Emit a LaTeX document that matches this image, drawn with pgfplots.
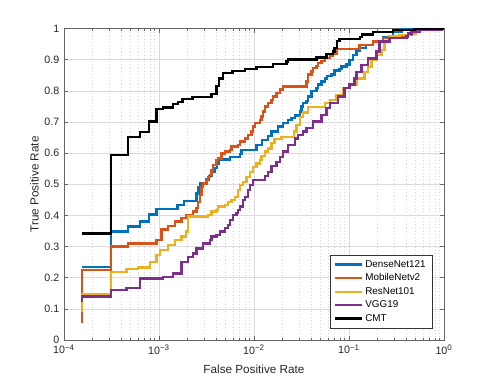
\documentclass[border=0pt]{standalone}
\usepackage{fontspec}
\setmainfont{Liberation Sans}
\usepackage{pgfplots}
\pgfplotsset{compat=1.18}

\definecolor{mblue}{rgb}{0,0.447,0.741}
\definecolor{morange}{rgb}{0.85,0.325,0.098}
\definecolor{myellow}{rgb}{0.929,0.694,0.125}
\definecolor{mpurple}{rgb}{0.494,0.184,0.556}

\begin{document}
\begin{tikzpicture}
\begin{axis}[
    scale only axis, width=285pt, height=233.6pt,
    xmode=log, xmin=1e-4, xmax=1, ymin=0, ymax=1,
    xtick={1e-4,1e-3,1e-2,1e-1,1},
    xticklabels={10\textsuperscript{−4},10\textsuperscript{−3},10\textsuperscript{−2},10\textsuperscript{−1},10\textsuperscript{0}},
    ytick={0,0.1,0.2,0.3,0.4,0.5,0.6,0.7,0.8,0.9,1},
    yticklabels={0,0.1,0.2,0.3,0.4,0.5,0.6,0.7,0.8,0.9,1},
    tick align=inside,
    major tick length=3pt, minor tick length=1.8pt,
    grid=both,
    major grid style={black!14, line width=0.45pt},
    minor grid style={black!16, dotted, line width=0.4pt},
    axis line style={black!60},
    every tick/.style={black!60},
    ticklabel style={font=\fontsize{8}{9}\selectfont, text=black!85},
    label style={font=\fontsize{8.8}{10}\selectfont, text=black!85},
    xlabel={False Positive Rate}, ylabel={True Positive Rate},
    xlabel style={at={(axis description cs:0.5,-0.106)}, anchor=base},
    ylabel style={at={(axis description cs:-0.078,0.5)}, anchor=center},
    legend cell align=left,
    legend style={at={(axis description cs:0.969,0.0376)}, anchor=south east,
        draw=black!80, line width=0.4pt, fill=white,
        font=\fontsize{7.4}{8.5}\selectfont, row sep=0pt,
        nodes={inner sep=1.7pt}},
    legend image code/.code={\draw[#1, line width=1.8pt] (0pt,0pt) -- (20pt,0pt);},
    every axis plot/.append style={const plot, line width=1.8pt},
]
\addplot[mblue] coordinates {
(1.55e-4,0.235)(3.12e-4,0.348)(4.75e-4,0.365)(6.30e-4,0.381)(7.89e-4,0.403)(9.44e-4,0.42)(1.56e-3,0.433)(1.83e-3,0.447)(2.49e-3,0.47)(2.60e-3,0.492)(2.74e-3,0.503)(3.11e-3,0.515)(3.35e-3,0.527)(3.60e-3,0.54)(3.87e-3,0.553)(4.06e-3,0.565)(4.21e-3,0.58)(5.57e-3,0.588)(7.09e-3,0.598)(7.39e-3,0.61)(1.062e-2,0.626)(1.208e-2,0.642)(1.41e-2,0.654)(1.53e-2,0.670)(1.79e-2,0.686)(2.02e-2,0.697)(2.28e-2,0.707)(2.48e-2,0.713)(2.69e-2,0.721)(3.03e-2,0.734)(3.16e-2,0.75)(3.28e-2,0.761)(3.56e-2,0.768)(3.71e-2,0.782)(4.02e-2,0.80)(4.54e-2,0.81)(4.69e-2,0.82)(5.13e-2,0.83)(5.55e-2,0.84)(5.83e-2,0.847)(6.53e-2,0.852)(7.07e-2,0.865)(7.98e-2,0.871)(8.32e-2,0.878)(9.39e-2,0.885)(0.1017,0.899)(0.110,0.915)(0.120,0.928)(0.1296,0.937)(0.152,0.947)(0.179,0.958)(0.228,0.973)(0.290,0.99)(0.356,0.998)(0.385,1)(1,1)
};
\addlegendentry{DenseNet121}
\addplot[morange] coordinates {
(1.55e-4,0.054)(1.55e-4,0.225)(3.12e-4,0.30)(4.75e-4,0.31)(9.44e-4,0.321)(1.065e-3,0.355)(1.25e-3,0.366)(1.47e-3,0.38)(1.73e-3,0.391)(1.92e-3,0.40)(2.29e-3,0.412)(2.49e-3,0.423)(2.58e-3,0.444)(2.69e-3,0.465)(2.81e-3,0.492)(2.92e-3,0.503)(3.17e-3,0.514)(3.29e-3,0.524)(3.43e-3,0.53)(3.57e-3,0.546)(3.72e-3,0.562)(4.03e-3,0.578)(4.19e-3,0.583)(4.55e-3,0.599)(4.93e-3,0.605)(5.57e-3,0.61)(5.80e-3,0.621)(6.81e-3,0.626)(7.09e-3,0.637)(8.00e-3,0.647)(8.67e-3,0.658)(9.41e-3,0.669)(9.78e-3,0.686)(1.02e-2,0.697)(1.15e-2,0.707)(1.20e-2,0.718)(1.25e-2,0.734)(1.30e-2,0.75)(1.41e-2,0.761)(1.53e-2,0.771)(1.59e-2,0.782)(1.72e-2,0.793)(1.87e-2,0.804)(2.02e-2,0.814)(3.56e-2,0.83)(3.71e-2,0.852)(4.02e-2,0.862)(4.18e-2,0.873)(4.54e-2,0.879)(4.72e-2,0.889)(5.13e-2,0.895)(5.55e-2,0.905)(6.27e-2,0.911)(6.79e-2,0.918)(7.37e-2,0.935)(0.1296,0.947)(0.179,0.958)(0.228,0.969)(0.302,0.975)(0.402,0.979)(0.453,0.99)(0.491,1)(1,1)
};
\addlegendentry{MobileNetv2}
\addplot[myellow] coordinates {
(1.55e-4,0.091)(1.55e-4,0.146)(3.12e-4,0.219)(4.56e-4,0.227)(6.04e-4,0.233)(8.02e-4,0.251)(9.44e-4,0.273)(1.02e-3,0.289)(1.25e-3,0.305)(1.47e-3,0.321)(1.73e-3,0.332)(1.92e-3,0.348)(2.03e-3,0.396)(3.29e-3,0.401)(3.57e-3,0.412)(4.03e-3,0.417)(4.19e-3,0.428)(4.93e-3,0.433)(5.34e-3,0.444)(5.80e-3,0.449)(6.28e-3,0.46)(6.81e-3,0.482)(7.09e-3,0.498)(7.68e-3,0.508)(8.34e-3,0.524)(9.03e-3,0.54)(9.78e-3,0.556)(1.062e-2,0.567)(1.15e-2,0.577)(1.20e-2,0.59)(1.30e-2,0.605)(1.41e-2,0.615)(1.53e-2,0.632)(1.65e-2,0.645)(1.95e-2,0.652)(2.62e-2,0.67)(2.80e-2,0.69)(3.03e-2,0.715)(3.28e-2,0.73)(3.68e-2,0.748)(5.55e-2,0.761)(6.27e-2,0.77)(7.37e-2,0.787)(8.65e-2,0.81)(0.1017,0.82)(0.120,0.84)(0.146,0.861)(0.1585,0.877)(0.172,0.899)(0.194,0.915)(0.219,0.931)(0.237,0.958)(0.268,0.974)(0.341,0.979)(0.435,0.984)(0.511,0.995)(0.600,1)(1,1)
};
\addlegendentry{ResNet101}
\addplot[mpurple] coordinates {
(1.55e-4,0.123)(1.55e-4,0.140)(3.12e-4,0.16)(4.56e-4,0.166)(6.30e-4,0.198)(1.107e-3,0.203)(1.41e-3,0.214)(1.73e-3,0.251)(2.03e-3,0.267)(2.29e-3,0.278)(2.49e-3,0.294)(2.92e-3,0.31)(3.43e-3,0.321)(3.57e-3,0.332)(4.03e-3,0.337)(4.37e-3,0.348)(4.93e-3,0.359)(5.34e-3,0.369)(5.57e-3,0.385)(6.03e-3,0.401)(6.55e-3,0.407)(6.81e-3,0.417)(7.09e-3,0.428)(7.68e-3,0.449)(8.00e-3,0.46)(8.67e-3,0.482)(9.03e-3,0.498)(9.78e-3,0.514)(1.30e-2,0.526)(1.41e-2,0.54)(1.53e-2,0.559)(1.72e-2,0.572)(1.87e-2,0.588)(2.02e-2,0.605)(2.28e-2,0.626)(2.69e-2,0.647)(2.91e-2,0.658)(3.28e-2,0.669)(3.56e-2,0.68)(4.18e-2,0.702)(5.13e-2,0.723)(5.79e-2,0.745)(6.27e-2,0.761)(7.66e-2,0.782)(9.01e-2,0.809)(0.1017,0.82)(0.1148,0.84)(0.1205,0.861)(0.135,0.883)(0.1585,0.904)(0.194,0.926)(0.210,0.958)(0.268,0.969)(0.402,0.974)(0.417,0.984)(0.453,0.99)(0.554,0.995)(0.937,1)(1,1)
};
\addlegendentry{VGG19}
\addplot[black] coordinates {
(1.55e-4,0.342)(3.12e-4,0.594)(4.75e-4,0.651)(6.30e-4,0.667)(7.89e-4,0.701)(9.44e-4,0.741)(1.107e-3,0.747)(1.41e-3,0.757)(1.59e-3,0.765)(1.77e-3,0.773)(2.26e-3,0.781)(3.57e-3,0.79)(4.03e-3,0.815)(4.30e-3,0.84)(4.73e-3,0.858)(5.94e-3,0.864)(8.0e-3,0.871)(1.06e-2,0.877)(1.59e-2,0.886)(2.20e-2,0.894)(2.28e-2,0.901)(4.54e-2,0.907)(5.79e-2,0.918)(6.79e-2,0.926)(7.07e-2,0.937)(7.48e-2,0.959)(7.98e-2,0.966)(0.130,0.973)(0.138,0.981)(0.179,0.989)(0.290,0.995)(0.491,1)(1,1)
};
\addlegendentry{CMT}
\end{axis}
\path (current axis.south west) ++(-48pt,-31.5pt) rectangle ++(368.25pt,286.5pt);
\end{tikzpicture}
\end{document}
